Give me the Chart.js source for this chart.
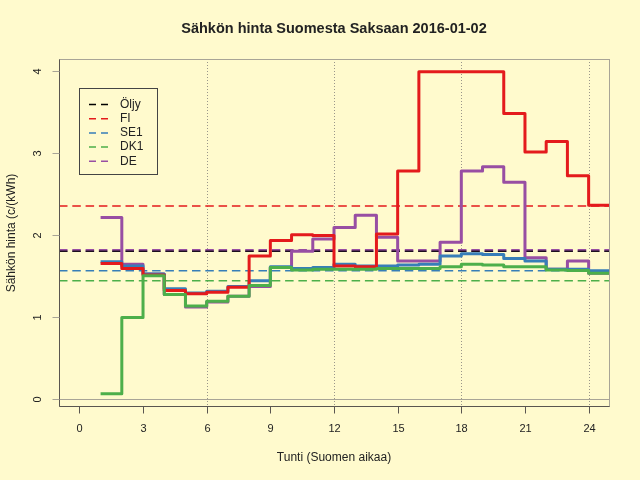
<!DOCTYPE html>
<html>
<head>
<meta charset="utf-8">
<script src="https://cdn.jsdelivr.net/npm/chart.js@4.4.1/dist/chart.umd.min.js"></script>
<style>
  html, body { margin: 0; padding: 0; background: #fffacd; }
</style>
</head>
<body>
<canvas id="myChart" width="640" height="480"></canvas>
<script>
// tunnit 1..24, arvot c/kWh luettu kuvasta
const tunnit = [1, 2, 3, 4, 5, 6, 7, 8, 9, 10, 11, 12, 13, 14, 15, 16, 17, 18, 19, 20, 21, 22, 23, 24];
const fi  = [1.65, 1.59, 1.51, 1.32, 1.28, 1.30, 1.36, 1.74, 1.93, 2.00, 1.99, 1.62, 1.61, 2.01, 2.78, 3.99, 3.99, 3.99, 3.99, 3.48, 3.01, 3.14, 2.72, 2.36];
const se1 = [1.67, 1.62, 1.52, 1.34, 1.29, 1.31, 1.37, 1.44, 1.61, 1.59, 1.60, 1.64, 1.62, 1.62, 1.63, 1.64, 1.74, 1.77, 1.76, 1.71, 1.68, 1.58, 1.58, 1.56];
const dk1 = [0.06, 0.99, 1.50, 1.27, 1.13, 1.19, 1.25, 1.38, 1.60, 1.57, 1.58, 1.58, 1.58, 1.59, 1.59, 1.59, 1.61, 1.64, 1.63, 1.61, 1.61, 1.57, 1.565, 1.53];
const de  = [2.21, 1.64, 1.52, 1.27, 1.12, 1.18, 1.25, 1.37, 1.60, 1.80, 1.95, 2.09, 2.24, 1.97, 1.68, 1.68, 1.91, 2.78, 2.83, 2.64, 1.72, 1.58, 1.68, 1.53];

// keskitasot (katkoviivat) ja selite
const nimet = ["Öljy", "FI", "SE1", "DK1", "DE"];
const tasot = [1.80, 2.35, 1.56, 1.44, 1.81];
const varit = ["#000000", "#e41a1c", "#377eb8", "#4daf4a", "#984ea3"];

const xTicks = [0, 3, 6, 9, 12, 15, 18, 21, 24];
const yTicks = [0, 1, 2, 3, 4];
const pystyViivat = [6, 12, 18, 24];

const xMin = -0.96, xMax = 24.96;
const yMin = -0.09, yMax = 4.146;

const tausta = "#fffacd";
const fontti = '"Liberation Sans", Arial, sans-serif';

// R:n type="s": viimeinen arvo jatkuu tunnin loppuun
const porras = (arvot) => {
    const pts = tunnit.map((t, i) => ({ x: t, y: arvot[i] }));
    pts.push({ x: tunnit[tunnit.length - 1] + 1, y: arvot[arvot.length - 1] });
    return pts;
};

const askel = (label, arvot, vari, order) => ({
    label,
    data: porras(arvot),
    borderColor: vari,
    borderWidth: 3,
    stepped: 'before',
    borderJoinStyle: 'round',
    pointRadius: 0,
    order
});

const taso = (i, order, leveys, vari) => ({
    label: nimet[i] + " taso",
    data: [{ x: xMin, y: tasot[i] }, { x: xMax, y: tasot[i] }],
    borderColor: vari || varit[i],
    borderWidth: leveys,
    borderDash: [8.5, 4.8],
    pointRadius: 0,
    order
});

const rTyyli = {
    id: 'rTyyli',
    beforeDraw(chart) {
        const c = chart.ctx;
        c.save();
        c.fillStyle = tausta;
        c.fillRect(0, 0, chart.width, chart.height);
        c.restore();
    },
    beforeDatasetsDraw(chart) {
        const { ctx: c, chartArea: a, scales: { x, y } } = chart;
        c.save();
        c.strokeStyle = "#9a968a";
        c.lineWidth = 1;
        c.setLineDash([1, 2]);
        pystyViivat.forEach(v => {
            const px = Math.round(x.getPixelForValue(v)) + 0.5;
            c.beginPath();
            c.moveTo(px, a.top);
            c.lineTo(px, a.bottom);
            c.stroke();
        });
        c.setLineDash([]);
        c.strokeStyle = "#a8a496";
        const py0 = Math.round(y.getPixelForValue(0)) + 0.5;
        c.beginPath();
        c.moveTo(a.left, py0);
        c.lineTo(a.right, py0);
        c.stroke();
        c.restore();
    },
    afterDatasetsDraw(chart) {
        const { ctx: c, chartArea: a, scales: { x, y } } = chart;
        const L = Math.round(a.left) + 0.5, R = Math.round(a.right) + 0.5;
        const T = Math.round(a.top) + 0.5, B = Math.round(a.bottom) + 0.5;
        c.save();

        // laatikko
        c.lineWidth = 1;
        c.strokeStyle = "#a8a496";
        c.strokeRect(L, T, R - L, B - T);
        c.strokeStyle = "#5a5650";
        c.beginPath();
        c.moveTo(L, T); c.lineTo(L, B); c.lineTo(R, B);
        c.stroke();

        c.fillStyle = "#222";
        c.font = "11px " + fontti;

        // x-akseli
        c.textAlign = "center";
        c.textBaseline = "middle";
        xTicks.forEach(v => {
            const px = Math.round(x.getPixelForValue(v)) + 0.5;
            c.strokeStyle = "#5a5650";
            c.beginPath(); c.moveTo(px, B); c.lineTo(px, B + 7); c.stroke();
            c.fillText(String(v), px, 428.5);
        });

        // y-akseli, pystyyn käännetyt luvut
        yTicks.forEach(v => {
            const py = Math.round(y.getPixelForValue(v)) + 0.5;
            c.strokeStyle = "#a8a496";
            c.beginPath(); c.moveTo(L - 7, py); c.lineTo(L, py); c.stroke();
            c.save();
            c.translate(38, py);
            c.rotate(-Math.PI / 2);
            c.fillText(String(v), 0, 0);
            c.restore();
        });

        // otsikot
        c.font = "12px " + fontti;
        c.fillText("Tunti (Suomen aikaa)", (a.left + a.right) / 2, 457.5);
        c.save();
        c.translate(11.5, 233);
        c.rotate(-Math.PI / 2);
        c.fillText("Sähkön hinta (c/(kWh)", 0, 0);
        c.restore();
        c.font = "bold 14.5px " + fontti;
        c.fillText("Sähkön hinta Suomesta Saksaan 2016-01-02", (a.left + a.right) / 2, 29);

        // selite
        c.strokeStyle = "#444";
        c.strokeRect(79.5, 88.5, 78, 86);
        c.font = "12px " + fontti;
        c.textAlign = "left";
        nimet.forEach((n, i) => {
            const py = 104.5 + i * 14.2;
            c.strokeStyle = varit[i];
            c.lineWidth = 1.5;
            c.setLineDash([7, 5]);
            c.beginPath(); c.moveTo(89, py); c.lineTo(108, py); c.stroke();
            c.setLineDash([]);
            c.fillText(n, 120, py);
        });
        c.restore();
    }
};

const ctx = document.getElementById('myChart').getContext('2d');
const myChart = new Chart(ctx, {
    type: 'line',
    data: {
        datasets: [
            askel("DK1", dk1, varit[3], 0),
            askel("FI", fi, varit[1], 1),
            askel("SE1", se1, varit[2], 2),
            askel("DE", de, varit[4], 3),
            taso(0, 4, 1.6, "#1c0f1e"),
            taso(4, 5, 2.8),
            taso(1, 6, 1.5),
            taso(2, 7, 1.5),
            taso(3, 8, 1.5)
        ]
    },
    options: {
        responsive: false,
        animation: false,
        devicePixelRatio: 1,
        layout: { padding: { left: 59, right: 31, top: 59, bottom: 74 } },
        plugins: { legend: { display: false }, tooltip: { enabled: false } },
        scales: {
            x: { type: 'linear', min: xMin, max: xMax, display: false },
            y: { type: 'linear', min: yMin, max: yMax, display: false }
        }
    },
    plugins: [rTyyli]
});
</script>
</body>
</html>
